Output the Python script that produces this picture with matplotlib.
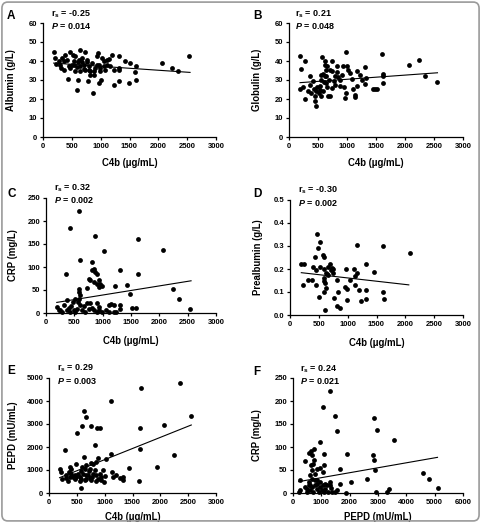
import numpy as np
import matplotlib
matplotlib.use("Agg")
import matplotlib.pyplot as plt
from matplotlib.patches import FancyBboxPatch

plt.rcParams['font.family'] = ['Liberation Sans', 'DejaVu Sans']
plt.rcParams['font.weight'] = 'bold'
plt.rcParams['mathtext.fontset'] = 'custom'
plt.rcParams['mathtext.rm'] = 'Liberation Sans:bold'
plt.rcParams['mathtext.it'] = 'Liberation Sans:italic:bold'

# ---------------- data ----------------
a_x = [185, 213, 231, 329, 358, 387, 300, 416, 473, 358, 430, 502, 560, 589, 606, 473, 520, 646, 733, 675,
       704, 733, 773, 589, 600, 646, 560, 790, 819, 848, 877, 866, 935, 946, 964, 993, 964, 1010, 1021, 1050,
       1108, 1137, 1194, 1165, 1223, 1223, 1310, 1310, 1310, 1310, 1425, 1512, 1483, 1616, 1598, 1610, 2069,
       2231, 2346, 2538, 877, 906, 819, 762, 531, 445, 271, 317, 675, 993, 1050, 1079, 1108, 935, 762, 618,
       531, 646, 704, 790]
a_y = [44.6, 41.6, 38.4, 41.6, 39.8, 43.3, 38.0, 40.7, 36.3, 35.4, 30.5, 38.0, 42.5, 37.0, 39.3, 45.0, 43.3,
       46.0, 45.0, 41.6, 38.0, 35.4, 29.3, 24.9, 30.2, 34.6, 34.6, 37.2, 34.6, 39.0, 32.8, 23.2, 42.5, 44.2,
       38.0, 36.3, 28.4, 30.2, 41.6, 39.8, 40.7, 41.0, 43.3, 37.2, 35.4, 27.5, 42.5, 36.3, 35.4, 29.3, 40.2,
       39.0, 28.4, 37.5, 34.0, 30.2, 39.0, 36.3, 35.0, 42.5, 34.6, 36.3, 32.8, 39.3, 39.8, 37.2, 39.8, 36.3,
       39.3, 34.6, 37.2, 35.4, 38.0, 38.0, 40.7, 40.7, 38.0, 37.2, 35.8, 35.4]
a_fit_x = [185, 2550]
a_fit_y = [38.9, 34.0]

b_x = [196, 213, 185, 242, 283, 271, 358, 358, 416, 427, 444, 444, 462, 485, 514, 531, 548, 560, 571, 589,
       600, 618, 618, 635, 646, 658, 675, 693, 704, 733, 750, 773, 791, 819, 848, 877, 906, 935, 952, 964,
       981, 981, 1004, 1021, 1050, 1079, 1108, 1137, 1137, 1165, 1177, 1223, 1252, 1310, 1321, 1310, 1454,
       1483, 1512, 1598, 1627, 1627, 1627, 2071, 2233, 2348, 2550, 531, 473, 589, 646, 733, 791, 877, 819,
       704, 560, 618, 329, 387, 658]
b_y = [42.5, 35.8, 25.3, 26.3, 20.2, 40.0, 27.5, 32.3, 29.3, 25.3, 21.4, 18.8, 16.5, 26.3, 23.2, 27.0, 30.2,
       21.4, 41.9, 33.3, 28.8, 38.0, 39.8, 35.4, 31.9, 26.3, 21.4, 30.2, 21.4, 39.8, 34.6, 29.3, 27.5, 34.0,
       31.6, 26.7, 32.8, 37.5, 26.1, 20.5, 23.2, 44.6, 37.5, 35.1, 33.7, 30.5, 25.3, 21.0, 22.3, 27.0, 34.6,
       32.8, 29.8, 37.0, 31.2, 28.0, 25.3, 25.3, 25.3, 43.9, 33.3, 31.9, 28.4, 38.0, 40.4, 32.3, 28.8, 24.9,
       24.0, 24.0, 28.4, 25.8, 31.9, 30.2, 37.2, 35.4, 32.8, 31.9, 24.0, 23.2, 37.2]
b_fit_x = [190, 2560]
b_fit_y = [28.6, 33.8]

c_x = [587, 417, 352, 605, 857, 1022, 1620, 2061, 810, 840, 810, 857, 898, 751, 781, 934, 951, 934, 898,
       981, 722, 840, 587, 587, 605, 575, 517, 476, 370, 1298, 1221, 1427, 1474, 1615, 2237, 2349, 2543,
       1515, 1591, 1309, 1309, 1151, 1104, 1192, 898, 781, 722, 810, 663, 934, 992, 1051, 1110, 1198, 194,
       252, 311, 370, 428, 487, 546, 634, 693, 282, 517, 605, 558, 446, 399, 223, 898, 840, 751, 934, 1239]
c_y = [221, 185.5, 85.5, 116, 166.7, 134.8, 161.6, 136.2, 110.9, 96.4, 92.8, 89.1, 84, 74.6, 72.5, 71,
       63.8, 56.5, 63.8, 59.4, 55.1, 67.4, 51.4, 45.7, 38.4, 31.2, 31.2, 23.9, 27.5, 94.2, 58.7, 60.1, 42,
       85.5, 52.9, 29.7, 8, 11.6, 10.1, 16.7, 9.4, 18.8, 18.1, 16.7, 22.5, 22.5, 21.7, 11.6, 14.5, 5.8, 2.2,
       5.8, 2.2, 2.2, 13, 7.2, 16.7, 5.8, 2.9, 5.8, 9.4, 5.8, 2.9, 2.2, 2.2, 16.7, 23.9, 14.5, 11.6, 5.8, 2.2,
       5.8, 9.4, 13, 2.2]
c_fit_x = [190, 2560]
c_fit_y = [23, 70]

d_x = [191, 243, 232, 318, 376, 394, 434, 446, 446, 475, 492, 521, 521, 510, 573, 585, 585, 596, 596, 614,
       625, 585, 631, 614, 660, 695, 706, 735, 753, 753, 637, 666, 811, 770, 822, 863, 834, 973, 955, 996,
       984, 1042, 1117, 1129, 1158, 1135, 1158, 1204, 1227, 1320, 1320, 1320, 1448, 1610, 1621, 1638, 2073]
d_y = [0.22, 0.22, 0.13, 0.152, 0.152, 0.21, 0.251, 0.196, 0.13, 0.351, 0.29, 0.319, 0.21, 0.08, 0.26,
       0.251, 0.2, 0.159, 0.149, 0.138, 0.181, 0.101, 0.119, 0.022, 0.21, 0.22, 0.196, 0.203, 0.181, 0.2,
       0.178, 0.174, 0.152, 0.072, 0.039, 0.032, 0.101, 0.199, 0.123, 0.065, 0.112, 0.152, 0.199, 0.17,
       0.181, 0.13, 0.306, 0.109, 0.061, 0.22, 0.109, 0.07, 0.188, 0.3, 0.101, 0.07, 0.271]
d_fit_x = [196, 2060]
d_fit_y = [0.184, 0.131]

e_x = [192, 222, 228, 294, 312, 342, 360, 372, 402, 432, 462, 480, 504, 522, 552, 564, 570, 582, 600, 624,
       672, 624, 642, 660, 672, 720, 762, 762, 792, 822, 840, 864, 912, 882, 912, 942, 972, 984, 1032, 1122,
       1122, 1140, 1152, 1212, 1272, 1332, 1332, 1440, 1650, 1620, 1632, 1632, 1944, 2070, 2250, 2358, 2556,
       402, 492, 612, 702, 732, 780, 852, 882, 732, 822, 672, 600, 312, 372, 462, 582, 642, 762, 852, 942,
       1002, 792]
e_y = [1029, 913, 594, 1855, 652, 507, 913, 1130, 1058, 696, 797, 1275, 2623, 841, 696, 507, 232, 942, 2913,
       3551, 3304, 1565, 1058, 768, 623, 942, 2899, 1319, 841, 2072, 1348, 2826, 2826, 1522, 841, 696, 986,
       478, 1493, 3986, 1710, 913, 696, 768, 652, 551, 696, 1087, 4565, 507, 1899, 2841, 1130, 2971, 1638,
       4797, 3348, 841, 696, 841, 768, 652, 696, 768, 623, 1058, 986, 1203, 1130, 797, 696, 623, 623, 551,
       551, 507, 551, 739, 1275]
e_fit_x = [190, 2556]
e_fit_y = [666, 2957]

f_x = [235, 200, 435, 553, 635, 729, 659, 753, 706, 635, 659, 600, 776, 835, 859, 965, 941, 1047, 1082, 1082,
       1059, 1294, 1471, 1553, 1671, 1906, 2059, 1671, 2612, 2824, 2847, 2871, 2965, 2906, 3553, 2941, 3318,
       3376, 4576, 4800, 5106, 1859, 235, 494, 553, 612, 659, 718, 776, 859, 906, 965, 1024, 1082, 1141,
       1224, 1294, 1318, 1376, 1494, 1553, 553, 659, 776, 965, 1141, 1200, 494, 612, 835, 1059, 1341, 435]
f_y = [27.5, 2.2, 68.8, 87.7, 90.6, 94.9, 81.9, 71, 63.8, 60.1, 49.3, 38.4, 42, 51.4, 27.5, 110.9, 54.3, 187,
       85.5, 61.6, 45.7, 221.7, 167.4, 134.8, 52.9, 85.5, 23.9, 20.3, 31.2, 83.3, 163, 72.5, 136.2, 49.3,
       115.9, 2.2, 2.2, 8, 43.5, 29.7, 10.9, 0.7, 5.8, 9.4, 16.7, 5.8, 13, 2.2, 16.7, 9.4, 2.2, 13, 5.8, 2.2,
       9.4, 2.2, 23.9, 16.7, 2.2, 2.2, 5.8, 23.9, 31.2, 27.5, 23.9, 20.3, 16.7, 2.2, 16.7, 20.3, 16.7, 10.9,
       13]
f_fit_x = [200, 5100]
f_fit_y = [24.7, 77.5]

letters = ["A", "B", "C", "D", "E", "F"]
r_values = ["-0.25", "0.21", "0.32", "-0.30", "0.29", "0.24"]
p_values = ["0.014", "0.048", "0.002", "0.002", "0.003", "0.021"]
y_labels = ["Albumin (g/L)", "Globulin (g/L)", "CRP (mg/L)", "Prealbumin (g/L)", "PEPD (mU/mL)", "CRP (mg/L)"]
x_labels = ["C4b (μg/mL)"] * 5 + ["PEPD (mU/mL)"]
x_ticks = [[0, 500, 1000, 1500, 2000, 2500, 3000]] * 5 + [[0, 1000, 2000, 3000, 4000, 5000, 6000]]
y_ticks = [[0, 10, 20, 30, 40, 50, 60], [0, 10, 20, 30, 40, 50, 60], [0, 50, 100, 150, 200, 250],
           [0.0, 0.1, 0.2, 0.3, 0.4, 0.5], [0, 1000, 2000, 3000, 4000, 5000], [0, 50, 100, 150, 200, 250]]
y_ticklabels = [None, None, None, ["0.0", "0.1", "0.2", "0.3", "0.4", "0.5"], None, None]

xs = [a_x, b_x, c_x, d_x, e_x, f_x]
ys = [a_y, b_y, c_y, d_y, e_y, f_y]
fits_x = [a_fit_x, b_fit_x, c_fit_x, d_fit_x, e_fit_x, f_fit_x]
fits_y = [a_fit_y, b_fit_y, c_fit_y, d_fit_y, e_fit_y, f_fit_y]

# ---------------- layout (pixels) ----------------
W, H = 481, 523
fig = plt.figure(figsize=(W / 100, H / 100), dpi=100)
boxes = [(43, 23, 216, 137), (289, 23, 463, 137),
         (46, 198, 216, 313), (290, 200, 463, 315),
         (49, 378, 216, 493), (293, 378, 463, 493)]
letter_pos = [(7, 16), (253, 16), (7, 194), (253, 194), (7, 371), (253, 372)]
ann_pos = [(51, 14, 26), (295, 14, 26), (54, 188, 200), (298, 190, 203), (57, 368, 381), (300, 369, 381)]
ylabel_x = [16, 262, 18, 263, 18, 262]   # right edge of rotated y label
xlabel_gap = [21, 21, 23, 23, 18.5, 18.5]    # top of x label below axis

border = FancyBboxPatch((0.004, 0.004), 0.992, 0.992, boxstyle="round,pad=0,rounding_size=0.012",
                        transform=fig.transFigure, facecolor="none", edgecolor="#9a9a9a", linewidth=1.2)
fig.patches.append(border)

for i in range(6):
    l, t, r, b = boxes[i]
    ax = fig.add_axes([l / W, 1 - b / H, (r - l) / W, (b - t) / H])
    ax.scatter(xs[i], ys[i], s=12, color="black", linewidths=0, clip_on=False, zorder=3)
    ax.plot(fits_x[i], fits_y[i], color="black", linewidth=0.8, zorder=2)
    ax.set_xlim(x_ticks[i][0], x_ticks[i][-1])
    ax.set_ylim(y_ticks[i][0], y_ticks[i][-1])
    ax.set_xticks(x_ticks[i])
    ax.set_yticks(y_ticks[i])
    if y_ticklabels[i] is not None:
        ax.set_yticklabels(y_ticklabels[i])
    for s in ["top", "right"]:
        ax.spines[s].set_visible(False)
    for s in ["left", "bottom"]:
        ax.spines[s].set_linewidth(0.9)
    ax.tick_params(direction="out", length=2.5, width=0.9, labelsize=5.5, pad=1.5)
    for lab in ax.get_xticklabels() + ax.get_yticklabels():
        lab.set_fontweight("bold")
    ax.set_xlabel(x_labels[i], fontsize=6.9, fontweight="bold")
    ax.xaxis.set_label_coords(0.5, -xlabel_gap[i] / (b - t))
    ax.set_ylabel(y_labels[i], fontsize=6.9, fontweight="bold")
    ax.yaxis.set_label_coords(-(l - ylabel_x[i]) / (r - l), 0.5)
    ax.patch.set_alpha(0)

    lx, ly = letter_pos[i]
    fig.text(lx / W, 1 - ly / H, letters[i], fontsize=8.5, fontweight="bold", va="center", ha="left")
    tx, ry, py = ann_pos[i]
    fig.text(tx / W, 1 - ry / H, r"$\mathrm{r_s}$ = " + r_values[i], fontsize=6.5, fontweight="bold",
             va="center", ha="left")
    fig.text(tx / W, 1 - py / H, r"$\mathit{P}$ = " + p_values[i], fontsize=6.5, fontweight="bold",
             va="center", ha="left")

fig.savefig("out.png", dpi=100)
